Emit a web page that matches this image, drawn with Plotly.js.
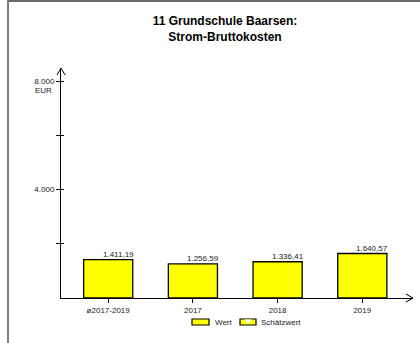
<!DOCTYPE html>
<html><head><meta charset="utf-8">
<script src="https://cdn.plot.ly/plotly-3.0.1.min.js"></script>
<style>html,body{margin:0;padding:0;background:#fff}#wrap{position:relative;width:420px;height:343px}#chart{width:420px;height:343px}
#frame{position:absolute;left:7px;top:0;width:420px;height:350px;border-left:2px solid #808080;border-top:2px solid #6a6a6a;pointer-events:none}</style>
</head><body><div id="wrap"><div id="chart"></div><div id="frame"></div></div>
<script>
const categories = ['ø2017-2019', '2017', '2018', '2019'];
const wertValues = [1411.19, 1256.59, 1336.41, 1640.57];
const schaetzValues = [null, null, null, null];
const yTickVals = [2000, 4000, 6000, 8000];
const yTickText = ['', '4.000', '', '8.000'];
const titleText = '11 Grundschule Baarsen:<br>Strom-Bruttokosten';
const unitLabel = 'EUR';
const legendNames = ['Wert', 'Schätzwert'];

const W = 420, H = 343;
const M = {l: 61, r: 7, t: 68, b: 45};
const PW = W - M.l - M.r, PH = H - M.t - M.b;
const px = x => (x - M.l) / PW;
const py = y => (H - M.b - y) / PH;

function fmt(v) {
  const parts = v.toFixed(2).split('.');
  parts[0] = parts[0].replace(/\B(?=(\d{3})+$)/g, '.');
  return parts.join(',');
}

const FONT = 'Liberation Sans, Arial, sans-serif';
const TXT = '#222';

const traces = [
  {type: 'bar', x: categories, y: wertValues, name: legendNames[0],
   marker: {color: '#ffff00', line: {color: '#000', width: 1.3}}, hoverinfo: 'none'},
  {type: 'bar', x: categories, y: schaetzValues, name: legendNames[1], yaxis: 'y2',
   marker: {color: '#ffff00', line: {color: '#000', width: 1.3}}, hoverinfo: 'none'}
];

const annotations = categories.map((c, i) => ({
  x: i, y: wertValues[i], xref: 'x', yref: 'y', text: fmt(wertValues[i]),
  showarrow: false, xanchor: 'right', yanchor: 'bottom', xshift: 28, yshift: -1,
  font: {family: FONT, size: 8, color: TXT}
}));
annotations.push({x: px(43), y: py(90), xref: 'paper', yref: 'paper', text: unitLabel,
  showarrow: false, xanchor: 'center', yanchor: 'middle', font: {family: FONT, size: 8, color: TXT}});
annotations.push({x: px(213), y: py(322), xref: 'paper', yref: 'paper', text: legendNames[0],
  showarrow: false, xanchor: 'left', yanchor: 'middle', font: {family: FONT, size: 8, color: TXT}});
annotations.push({x: px(259), y: py(322), xref: 'paper', yref: 'paper', text: legendNames[1],
  showarrow: false, xanchor: 'left', yanchor: 'middle', font: {family: FONT, size: 8, color: TXT}});

const shapes = [
  // axis arrows
  {type: 'path', xref: 'paper', yref: 'paper', xsizemode: 'pixel', ysizemode: 'pixel', xanchor: 0, yanchor: 1,
   path: 'M-4,-7 L0,0 L4,-7', line: {color: '#000', width: 1}},
  {type: 'path', xref: 'paper', yref: 'paper', xsizemode: 'pixel', ysizemode: 'pixel', xanchor: 1, yanchor: 0,
   path: 'M-7,4 L0,0 L-7,-4', line: {color: '#000', width: 1}},
  // legend boxes
  {type: 'rect', xref: 'paper', yref: 'paper', x0: px(192), x1: px(209), y0: py(325), y1: py(319),
   fillcolor: '#ffff00', line: {color: '#000', width: 1.2}},
  {type: 'rect', xref: 'paper', yref: 'paper', x0: px(240), x1: px(256), y0: py(325), y1: py(319),
   fillcolor: '#ffff00', line: {color: '#000', width: 1.2}},
  {type: 'path', xref: 'paper', yref: 'paper', xsizemode: 'pixel', ysizemode: 'pixel', xanchor: px(248), yanchor: py(322),
   path: 'M-4,2.4 L4,2.4 L0,-2 Z', fillcolor: '#ffffff', line: {width: 0}}
];

const layout = {
  width: W, height: H, margin: M, paper_bgcolor: '#fff', plot_bgcolor: 'rgba(0,0,0,0)',
  showlegend: false, bargap: 0.42, separators: ',.',
  font: {family: FONT, size: 8, color: TXT},
  title: {text: titleText, x: 225 / W, xanchor: 'center', y: 1 - 25 / H, yanchor: 'top', yref: 'container',
          font: {family: FONT, size: 12, color: '#000', weight: 'bold'}},
  xaxis: {type: 'category', range: [(M.l - 108.2) / 84.7, (W - M.r - 108.2) / 84.7], showline: true, linecolor: '#000', linewidth: 1,
          ticks: 'outside', ticklen: 4, tickcolor: '#000', tickwidth: 1, showgrid: false, zeroline: false,
          tickfont: {family: FONT, size: 8, color: TXT}, fixedrange: true},
  yaxis: {range: [0, 8480], tickvals: yTickVals, ticktext: yTickText, ticks: 'outside', ticklen: 4, tickcolor: '#000',
          showline: true, linecolor: '#000', linewidth: 1, showgrid: false, zeroline: false,
          tickfont: {family: FONT, size: 8, color: TXT}, fixedrange: true},
  yaxis2: {overlaying: 'y', side: 'left', anchor: 'x', range: [0, 8480], tickvals: yTickVals, ticks: 'inside', ticklen: 3,
           tickcolor: '#000', showticklabels: false, showline: false, showgrid: false, zeroline: false, fixedrange: true},
  annotations: annotations, shapes: shapes
};

Plotly.newPlot('chart', traces, layout, {staticPlot: true, displayModeBar: false});
</script></body></html>
